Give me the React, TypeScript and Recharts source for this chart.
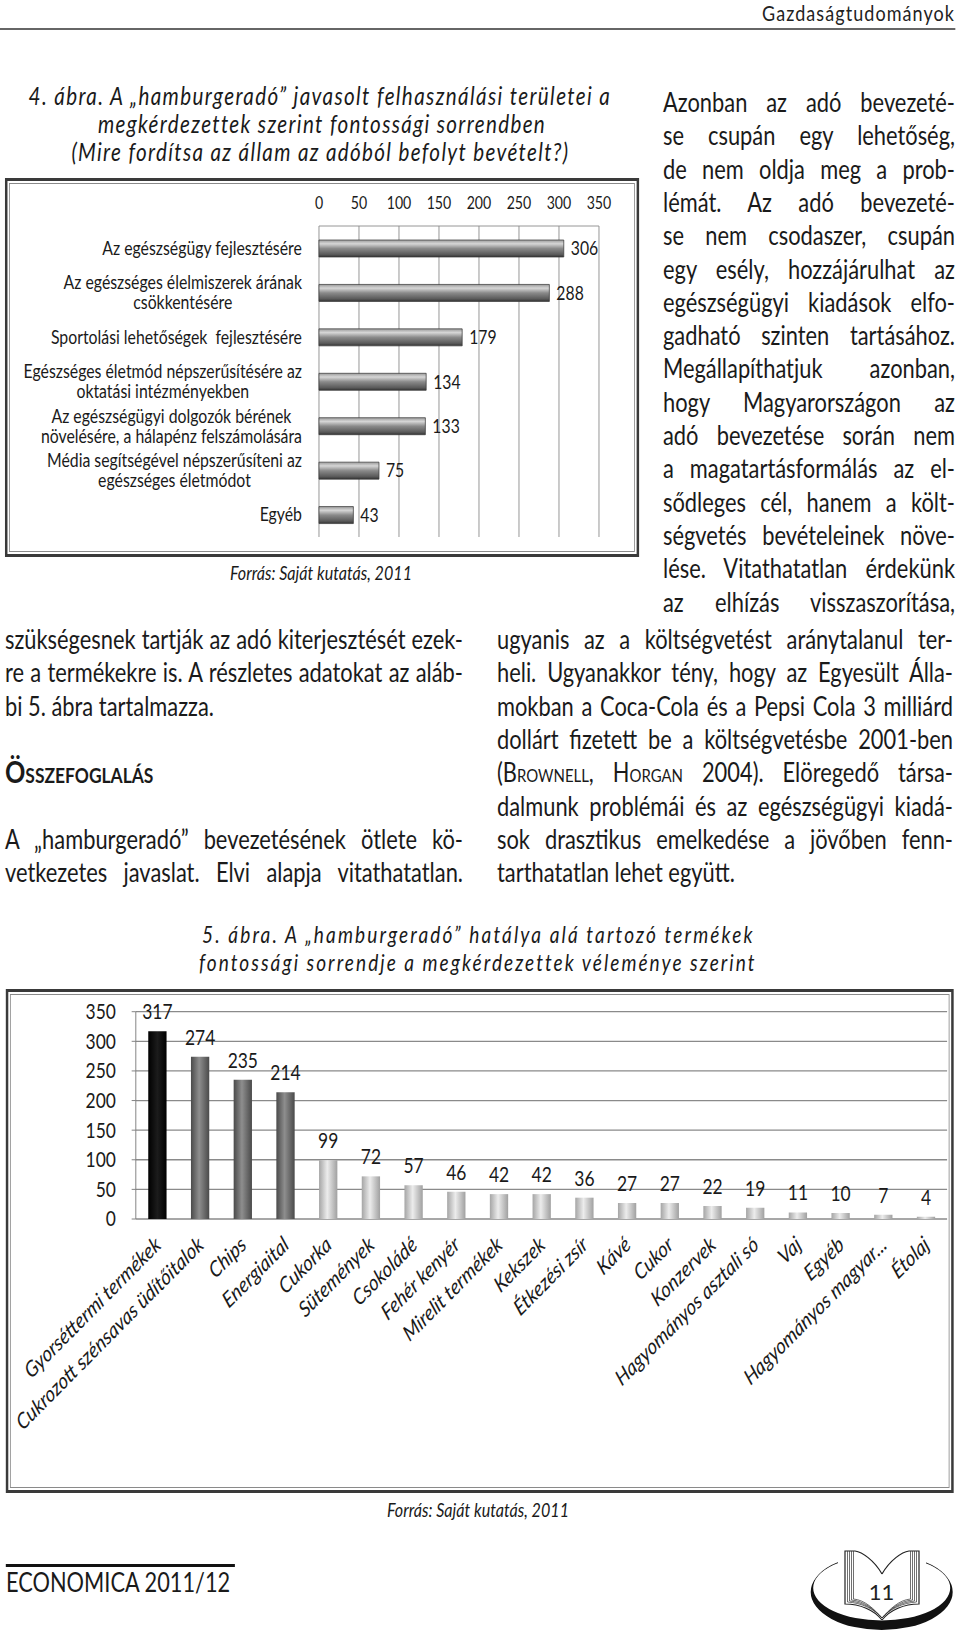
import type { ReactNode } from "react";
import { Bar, BarChart, CartesianGrid, Cell, LabelList, XAxis, YAxis } from "recharts";

// the scanned page is squeezed horizontally, so everything is laid out wide and scaled back
const S = 0.83;
const ix = (v: number) => v / S;
const INK = "#1a1a1a";

// 4. ábra
const useCategories = [
  "Az egészségügy fejlesztésére",
  "Az egészséges élelmiszerek árának\ncsökkentésére",
  "Sportolási lehetőségek  fejlesztésére",
  "Egészséges életmód népszerűsítésére az\noktatási intézményekben",
  "Az egészségügyi dolgozók bérének\nnövelésére, a hálapénz felszámolására",
  "Média segítségével népszerűsíteni az\negészséges életmódot",
  "Egyéb",
];
const useValues = [306, 288, 179, 134, 133, 75, 43];
const useTicks = [0, 50, 100, 150, 200, 250, 300, 350];

// 5. ábra
const products = [
  "Gyorséttermi termékek",
  "Cukrozott szénsavas üdítőitalok",
  "Chips",
  "Energiaital",
  "Cukorka",
  "Sütemények",
  "Csokoládé",
  "Fehér kenyér",
  "Mirelit termékek",
  "Kekszek",
  "Étkezési zsír",
  "Kávé",
  "Cukor",
  "Konzervek",
  "Hagyományos asztali só",
  "Vaj",
  "Egyéb",
  "Hagyományos magyar...",
  "Étolaj",
];
const productValues = [317, 274, 235, 214, 99, 72, 57, 46, 42, 42, 36, 27, 27, 22, 19, 11, 10, 7, 4];
const productTicks = [0, 50, 100, 150, 200, 250, 300, 350];

const useData = useCategories.map((name, i) => ({ name, value: useValues[i] }));
const useEdges = useCategories.map((_, i) => i).concat(useCategories.length);
const productData = products.map((name, i) => ({ name, value: productValues[i] }));
const productEdges = products.map((_, i) => i).concat(products.length);

let ctx: CanvasRenderingContext2D | null = null;
function measure(text: string, font: string) {
  if (!ctx) ctx = document.createElement("canvas").getContext("2d");
  ctx!.font = font;
  return ctx!.measureText(text).width;
}
function fitSize(text: string, w: number, style = "") {
  return (100 * ix(w)) / measure(text, `${style} 100px Lato`);
}

function UseTick({ x, y, payload }: any) {
  const size = fitSize("Az egészségügy fejlesztésére", 200);
  const lines = String(payload.value).split("\n");
  const blockW = Math.max(...lines.map((l) => measure(l, `${size}px Lato`)));
  const cx = x - blockW / 2;
  const lh = 20;
  const top = y - ((lines.length - 1) * lh) / 2;
  return (
    <text textAnchor="middle" fontSize={size} fill={INK} style={{ whiteSpace: "pre" }}>
      {lines.map((l, i) => (
        <tspan key={i} x={cx} y={top + i * lh} dy="0.35em">
          {l}
        </tspan>
      ))}
    </text>
  );
}

function ProductTick({ x, y, payload }: any) {
  const size = fitSize("Cukrozott szénsavas üdítőitalok", 238, "italic");
  return (
    <text
      transform={`translate(${x + 6},${y + 20}) rotate(-40)`}
      textAnchor="end"
      fontSize={size}
      fontStyle="italic"
      fill={INK}
    >
      {payload.value}
    </text>
  );
}

function UseChart() {
  return (
    <BarChart
      layout="vertical"
      width={ix(634)}
      height={379}
      data={useData}
      barSize={17}
      margin={{ top: 18, right: ix(40), bottom: 20, left: ix(314) - 360 }}
    >
      <defs>
        <linearGradient id="gUse" x1="0" y1="0" x2="0" y2="1">
          <stop offset="0%" stopColor="#9a9a9a" />
          <stop offset="22%" stopColor="#d6d6d6" />
          <stop offset="50%" stopColor="#8a8a8a" />
          <stop offset="85%" stopColor="#5a5a5a" />
          <stop offset="100%" stopColor="#333" />
        </linearGradient>
      </defs>
      <CartesianGrid xAxisId="v" yAxisId="cat" horizontal={false} stroke="#8c8c8c" />
      <XAxis
        xAxisId="v"
        type="number"
        orientation="top"
        domain={[0, 350]}
        ticks={useTicks}
        interval={0}
        height={30}
        tickLine={false}
        tickMargin={11}
        axisLine={{ stroke: "#8c8c8c" }}
        tick={{ fill: INK, fontSize: 17 }}
      />
      <YAxis
        yAxisId="cat"
        type="category"
        dataKey="name"
        width={360}
        interval={0}
        axisLine={false}
        tickLine={false}
        tickMargin={ix(17) - 6}
        tick={<UseTick />}
      />
      <YAxis
        yAxisId="edge"
        type="number"
        domain={[0, useCategories.length]}
        ticks={useEdges}
        allowDataOverflow
        mirror
        width={0}
        tick={false}
        tickSize={-6}
        axisLine={{ stroke: "#7a7a7a" }}
        tickLine={{ stroke: "#7a7a7a" }}
      />
      <Bar xAxisId="v" yAxisId="cat" dataKey="value" fill="url(#gUse)" stroke="#3a3a3a" strokeWidth={0.8} isAnimationActive={false}>
        <LabelList dataKey="value" position="right" offset={ix(7)} fill={INK} fontSize={19} />
      </Bar>
    </BarChart>
  );
}

const tierFill = (i: number) => (i === 0 ? "url(#gBlack)" : i < 4 ? "url(#gDark)" : "url(#gLight)");

function ProductChart() {
  return (
    <BarChart
      width={ix(948)}
      height={504}
      data={productData}
      barSize={ix(18.3)}
      margin={{ top: 22.7, right: ix(6.7), bottom: 24, left: ix(130) - 60 }}
    >
      <defs>
        <linearGradient id="gBlack" x1="0" y1="0" x2="1" y2="0">
          <stop offset="0%" stopColor="#000" />
          <stop offset="50%" stopColor="#1c1c1c" />
          <stop offset="100%" stopColor="#000" />
        </linearGradient>
        <linearGradient id="gDark" x1="0" y1="0" x2="1" y2="0">
          <stop offset="0%" stopColor="#4a4a4a" />
          <stop offset="45%" stopColor="#8e8e8e" />
          <stop offset="100%" stopColor="#4a4a4a" />
        </linearGradient>
        <linearGradient id="gLight" x1="0" y1="0" x2="1" y2="0">
          <stop offset="0%" stopColor="#a5a5a5" />
          <stop offset="45%" stopColor="#ececec" />
          <stop offset="100%" stopColor="#a0a0a0" />
        </linearGradient>
      </defs>
      <CartesianGrid xAxisId="cat" yAxisId="v" vertical={false} stroke="#8a8a8a" strokeWidth={1.3} />
      <XAxis
        xAxisId="edge"
        type="number"
        domain={[0, products.length]}
        ticks={productEdges}
        allowDataOverflow
        mirror
        height={0}
        tick={false}
        tickSize={-5}
        axisLine={{ stroke: "#7a7a7a" }}
        tickLine={{ stroke: "#7a7a7a" }}
      />
      <XAxis
        xAxisId="cat"
        dataKey="name"
        interval={0}
        height={250}
        axisLine={false}
        tickLine={false}
        tick={<ProductTick />}
      />
      <YAxis
        yAxisId="v"
        domain={[0, 350]}
        ticks={productTicks}
        interval={0}
        width={60}
        tickSize={5}
        tickMargin={19}
        axisLine={{ stroke: "#7a7a7a" }}
        tickLine={{ stroke: "#7a7a7a" }}
        tick={{ fill: INK, fontSize: 21 }}
      />
      <Bar xAxisId="cat" yAxisId="v" dataKey="value" isAnimationActive={false}>
        {productData.map((d, i) => (
          <Cell key={d.name} fill={tierFill(i)} />
        ))}
        <LabelList dataKey="value" position="top" offset={12} fill={INK} fontSize={21} />
      </Bar>
    </BarChart>
  );
}

function Frame({ x, y, w, h, children }: { x: number; y: number; w: number; h: number; children?: ReactNode }) {
  return (
    <div
      style={{
        position: "absolute",
        left: ix(x),
        top: y,
        width: ix(w),
        height: h,
        border: "3px solid #3a3a3a",
        boxSizing: "border-box",
      }}
    >
      <div style={{ position: "absolute", inset: 2, border: "1px solid #8a8a8a" }} />
      <div style={{ position: "absolute", left: -3, top: -3 }}>{children}</div>
    </div>
  );
}

// single line over a measured extent: the font is fitted to it, shrunk a little,
// and the letter spacing takes up what the shrink leaves
function FitLine({
  text,
  x,
  w,
  base,
  style = "",
  color = INK,
  shrink = 1,
  fitTo,
}: {
  text: string;
  x: number;
  w: number;
  base: number;
  style?: string;
  color?: string;
  shrink?: number;
  fitTo?: [string, number];
}) {
  const full = fitTo ? fitSize(fitTo[0], fitTo[1], style) : fitSize(text, w, style);
  const fs = full * shrink;
  const natural = measure(text, `${style} ${fs}px Lato`);
  const spacing = (ix(w) - natural) / text.length;
  return (
    <div
      style={{
        position: "absolute",
        left: ix(x),
        top: base - 0.887 * fs,
        fontSize: fs,
        lineHeight: 1,
        letterSpacing: spacing,
        whiteSpace: "nowrap",
        fontStyle: style.includes("italic") ? "italic" : "normal",
        color,
      }}
    >
      {text}
    </div>
  );
}

type BodyLine = string | { node: ReactNode; text: string };
const plain = (l: BodyLine) => (typeof l === "string" ? l : l.text);

function Para({ x, w, base, lines, size, lastLeft = true }: { x: number; w: number; base: number; lines: BodyLine[]; size: number; lastLeft?: boolean }) {
  return (
    <>
      {lines.map((ln, i) => {
        const natural = measure(plain(ln), `${size}px Lato`);
        const over = natural - ix(w);
        const spacing = over > 0 ? -over / plain(ln).length : 0;
        return (
          <div
            key={i}
            style={{
              position: "absolute",
              left: ix(x),
              top: base + i * 33.3 - 0.987 * size,
              width: ix(w),
              fontSize: size,
              lineHeight: 1.2,
              letterSpacing: spacing,
              whiteSpace: "nowrap",
              textAlign: "justify",
              textAlignLast: lastLeft && i === lines.length - 1 ? "left" : "justify",
            }}
          >
            {typeof ln === "string" ? ln : ln.node}
          </div>
        );
      })}
    </>
  );
}

const sc = (t: string) => <span style={{ fontVariant: "small-caps" }}>{t}</span>;

function Logo() {
  return (
    <svg style={{ position: "absolute", left: 800, top: 1530 }} width={160} height={107} viewBox="0 0 160 107">
      <path
        d="M 10.7 62 A 71 38 0 1 0 152.7 62 A 71 38 0 1 0 10.7 62 Z M 13.2 58 A 68.5 32.5 0 1 1 150.2 58 A 68.5 32.5 0 1 1 13.2 58 Z"
        fillRule="evenodd"
        fill="#111"
      />
      <rect x={38} y={14} width={88} height={30} fill="#fff" />
      <path d="M 82 44 C 74 30 62 22 55 21 L 45 21 L 45 74 C 60 74 74 80 82 90" fill="#fff" stroke="#222" strokeWidth={1.2} />
      <path d="M 82 44 C 90 30 102 22 109 21 L 119 21 L 119 74 C 104 74 90 80 82 90" fill="#fff" stroke="#222" strokeWidth={1.2} />
      {[0, 1, 2, 3].map((k) => (
        <g key={k} stroke="#333" strokeWidth={0.7} fill="none">
          <path d={`M ${47.5 + 2 * k} 21 L ${47.5 + 2 * k} ${72 - k} C ${62 + k} ${73 - k} 74 79 82 88`} />
          <path d={`M ${116.5 - 2 * k} 21 L ${116.5 - 2 * k} ${72 - k} C ${102 - k} ${73 - k} 90 79 82 88`} />
        </g>
      ))}
      <text x={81.5} y={70} textAnchor="middle" fontSize={22} fontFamily="Lato" fill="#222">
        11
      </text>
    </svg>
  );
}

const rightTop: BodyLine[] = [
  "Azonban az adó bevezeté-",
  "se csupán egy lehetőség,",
  "de nem oldja meg a prob-",
  "lémát.  Az adó bevezeté-",
  "se nem csodaszer, csupán",
  "egy esély, hozzájárulhat az",
  "egészségügyi kiadások elfo-",
  "gadható szinten tartásához.",
  "Megállapíthatjuk azonban,",
  "hogy Magyarországon az",
  "adó bevezetése során nem",
  "a magatartásformálás az el-",
  "sődleges cél, hanem a költ-",
  "ségvetés bevételeinek növe-",
  "lése. Vitathatatlan érdekünk",
  "az elhízás visszaszorítása,",
];

const rightBottom: BodyLine[] = [
  "ugyanis az a költségvetést aránytalanul ter-",
  "heli. Ugyanakkor tény, hogy az Egyesült Álla-",
  "mokban a Coca-Cola és a Pepsi Cola 3 milliárd",
  "dollárt fizetett be a költségvetésbe 2001-ben",
  {
    node: (
      <>
        ({sc("Brownell")}, {sc("Horgan")} 2004). Elöregedő társa-
      </>
    ),
    text: "(Brownell, Horgan 2004). Elöregedő társa-",
  },
  "dalmunk problémái és az egészségügyi kiadá-",
  "sok drasztikus emelkedése a jövőben fenn-",
  "tarthatatlan lehet együtt.",
];

const leftTop: BodyLine[] = [
  "szükségesnek tartják az adó kiterjesztését ezek-",
  "re a termékekre is. A részletes adatokat az aláb-",
  "bi 5. ábra tartalmazza.",
];
const leftBottom: BodyLine[] = ["A „hamburgeradó” bevezetésének ötlete kö-", "vetkezetes javaslat. Elvi alapja vitathatatlan."];

const TITLE4: [string, number] = ["4. ábra. A „hamburgeradó” javasolt felhasználási területei a", 584];
const TITLE5: [string, number] = ["fontossági sorrendje a megkérdezettek véleménye szerint", 557];

export default function App() {
  // body size: the largest that lets the tightest full lines fit their columns
  const body = Math.min(
    fitSize("dollárt fizetett be a költségvetésbe 2001-ben", 452),
    fitSize("lése. Vitathatatlan érdekünk", 289),
    fitSize("szükségesnek tartják az adó kiterjesztését ezek-", 456),
  );
  const headSize = fitSize("Összefoglalás", 150, "small-caps bold");
  return (
    <div
      style={{
        position: "absolute",
        left: 0,
        top: 0,
        width: 960,
        height: 1637,
        overflow: "hidden",
        background: "#fff",
        fontFamily: "Lato",
        color: INK,
      }}
    >
      <div style={{ position: "absolute", left: 0, top: 0, width: ix(960), height: 1637, transform: `scaleX(${S})`, transformOrigin: "0 0" }}>
        <FitLine text="Gazdaságtudományok" x={762} w={193} base={22} color="#222" shrink={0.9} />
        <div style={{ position: "absolute", left: 0, top: 28, width: ix(955), height: 2, background: "#666" }} />

        <FitLine text={TITLE4[0]} x={28.6} w={584} base={105} style="italic" fitTo={TITLE4} shrink={0.86} />
        <FitLine text="megkérdezettek szerint fontossági sorrendben" x={98} w={447} base={133} style="italic" fitTo={TITLE4} shrink={0.86} />
        <FitLine text="(Mire fordítsa az állam az adóból befolyt bevételt?)" x={71.4} w={498} base={161} style="italic" fitTo={TITLE4} shrink={0.86} />

        <Frame x={5} y={178} w={634} h={379}>
          <UseChart />
        </Frame>
        <FitLine text="Forrás: Saját kutatás, 2011" x={230} w={182} base={580} style="italic" />

        <Para x={663} w={292} base={113} lines={rightTop} size={body} lastLeft={false} />
        <Para x={497} w={456} base={650} lines={rightBottom} size={body} />

        <Para x={5} w={458} base={650} lines={leftTop} size={body} />
        <div
          style={{
            position: "absolute",
            left: ix(5),
            top: 783 - 0.987 * headSize,
            fontSize: headSize,
            lineHeight: 1.2,
            fontWeight: 700,
            fontVariant: "small-caps",
            whiteSpace: "nowrap",
          }}
        >
          Összefoglalás
        </div>
        <Para x={5} w={458} base={850} lines={leftBottom} size={body} lastLeft={false} />

        <FitLine text="5. ábra. A „hamburgeradó” hatálya alá tartozó termékek" x={202} w={554} base={943.5} style="italic" fitTo={TITLE5} shrink={0.8} />
        <FitLine text={TITLE5[0]} x={199} w={557} base={971} style="italic" fitTo={TITLE5} shrink={0.8} />

        <Frame x={6} y={989} w={948} h={504}>
          <ProductChart />
        </Frame>
        <FitLine text="Forrás: Saját kutatás, 2011" x={387} w={182} base={1517} style="italic" />

        <div style={{ position: "absolute", left: ix(6), top: 1564, width: ix(229), height: 3, background: "#111" }} />
        <FitLine text="ECONOMICA 2011/12" x={6} w={225} base={1592} />
      </div>
      <Logo />
    </div>
  );
}
